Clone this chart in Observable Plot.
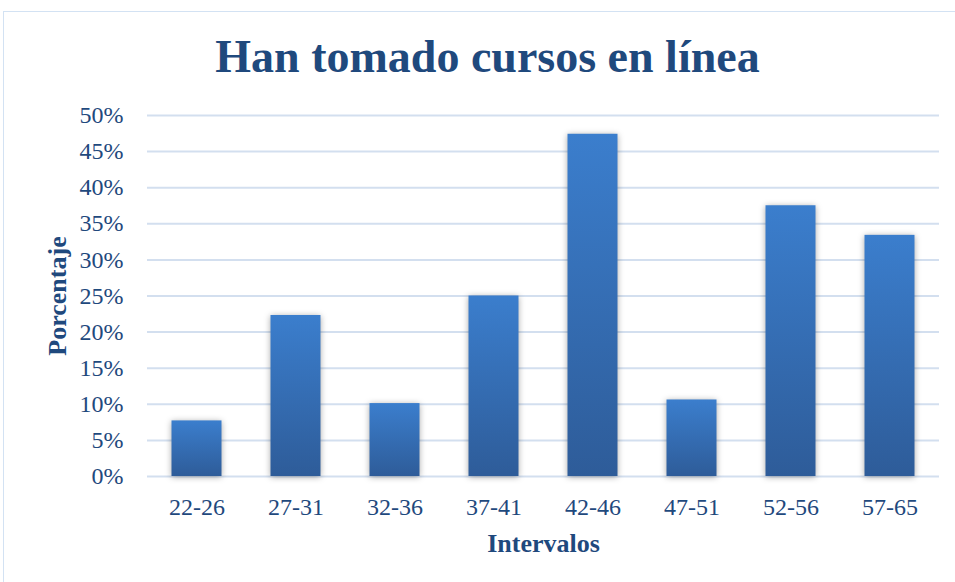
<!DOCTYPE html>
<html><head><meta charset="utf-8">
<script src="https://cdn.jsdelivr.net/npm/d3@7"></script>
<script src="https://cdn.jsdelivr.net/npm/@observablehq/plot@0.6"></script>
<style>
body{margin:0;background:#fff;}
#wrap{position:relative;width:955px;height:582px;overflow:hidden;background:#fff;}
#border{position:absolute;left:3px;top:11px;width:1000px;height:700px;border:1.5px solid #d3e2f3;box-sizing:border-box;}
#title{position:absolute;left:10px;width:955px;top:34px;text-align:center;font:bold 46px "Liberation Serif",serif;line-height:46px;color:#1f497d;white-space:nowrap;}
#chart{position:absolute;left:0;top:0;}
#chart g[aria-label="bar"] rect{filter:drop-shadow(0 1px 3px rgba(0,0,0,0.35));}
</style>
</head><body>
<div id="wrap"><div id="border"></div><div id="title">Han tomado cursos en línea</div><div id="chart"></div></div>
<script>
const categories = ["22-26","27-31","32-36","37-41","42-46","47-51","52-56","57-65"];
const values = [0.077,0.223,0.101,0.25,0.474,0.106,0.375,0.334];
const yTicks = [0,0.05,0.10,0.15,0.20,0.25,0.30,0.35,0.40,0.45,0.50];
const yTickLabels = ["0%","5%","10%","15%","20%","25%","30%","35%","40%","45%","50%"];
const xTitle = "Intervalos";
const yTitle = "Porcentaje";

const data = categories.map((c,i)=>({cat:c, v:values[i]}));
const textColor = "#1f497d";

const chart = Plot.plot({
  width: 955, height: 582,
  marginTop: 115, marginBottom: 106, marginLeft: 147, marginRight: 16,
  style: {fontFamily: '"Liberation Serif", serif', fontSize: "24px", color: textColor, background: "transparent", overflow: "visible"},
  x: {domain: categories, paddingInner: 0.495, paddingOuter: 0.2475, round: false, label: null},
  y: {domain: [0, 0.5], label: null},
  marks: [
    Plot.ruleY(yTicks, {stroke: "#d3dfef", strokeWidth: 2}),
    Plot.barY(data, {x: "cat", y: "v", fill: "url(#barGrad)"}),
    Plot.axisY({ticks: yTicks, tickFormat: (d)=>yTickLabels[yTicks.indexOf(d)], tickSize: 0, tickPadding: 24, label: null}),
    Plot.axisX({tickSize: 0, tickPadding: 21, label: null}),
    Plot.text([xTitle], {frameAnchor: "bottom", lineAnchor: "middle", textAnchor: "middle", dy: 67, fontWeight: "bold", fontSize: 26, fill: textColor}),
    Plot.text([yTitle], {frameAnchor: "left", lineAnchor: "middle", textAnchor: "middle", rotate: -90, dx: -90, fontWeight: "bold", fontSize: 26, fill: textColor})
  ]
});

const ns = "http://www.w3.org/2000/svg";
const defs = document.createElementNS(ns, "defs");
const grad = document.createElementNS(ns, "linearGradient");
grad.setAttribute("id", "barGrad");
grad.setAttribute("x1", "0"); grad.setAttribute("y1", "0");
grad.setAttribute("x2", "0"); grad.setAttribute("y2", "1");
[["0", "#3b7ecd"], ["1", "#2e5c99"]].forEach(([o, c]) => {
  const s = document.createElementNS(ns, "stop");
  s.setAttribute("offset", o); s.setAttribute("stop-color", c);
  grad.appendChild(s);
});
defs.appendChild(grad);
chart.insertBefore(defs, chart.firstChild);
document.getElementById("chart").appendChild(chart);
</script>
</body></html>
